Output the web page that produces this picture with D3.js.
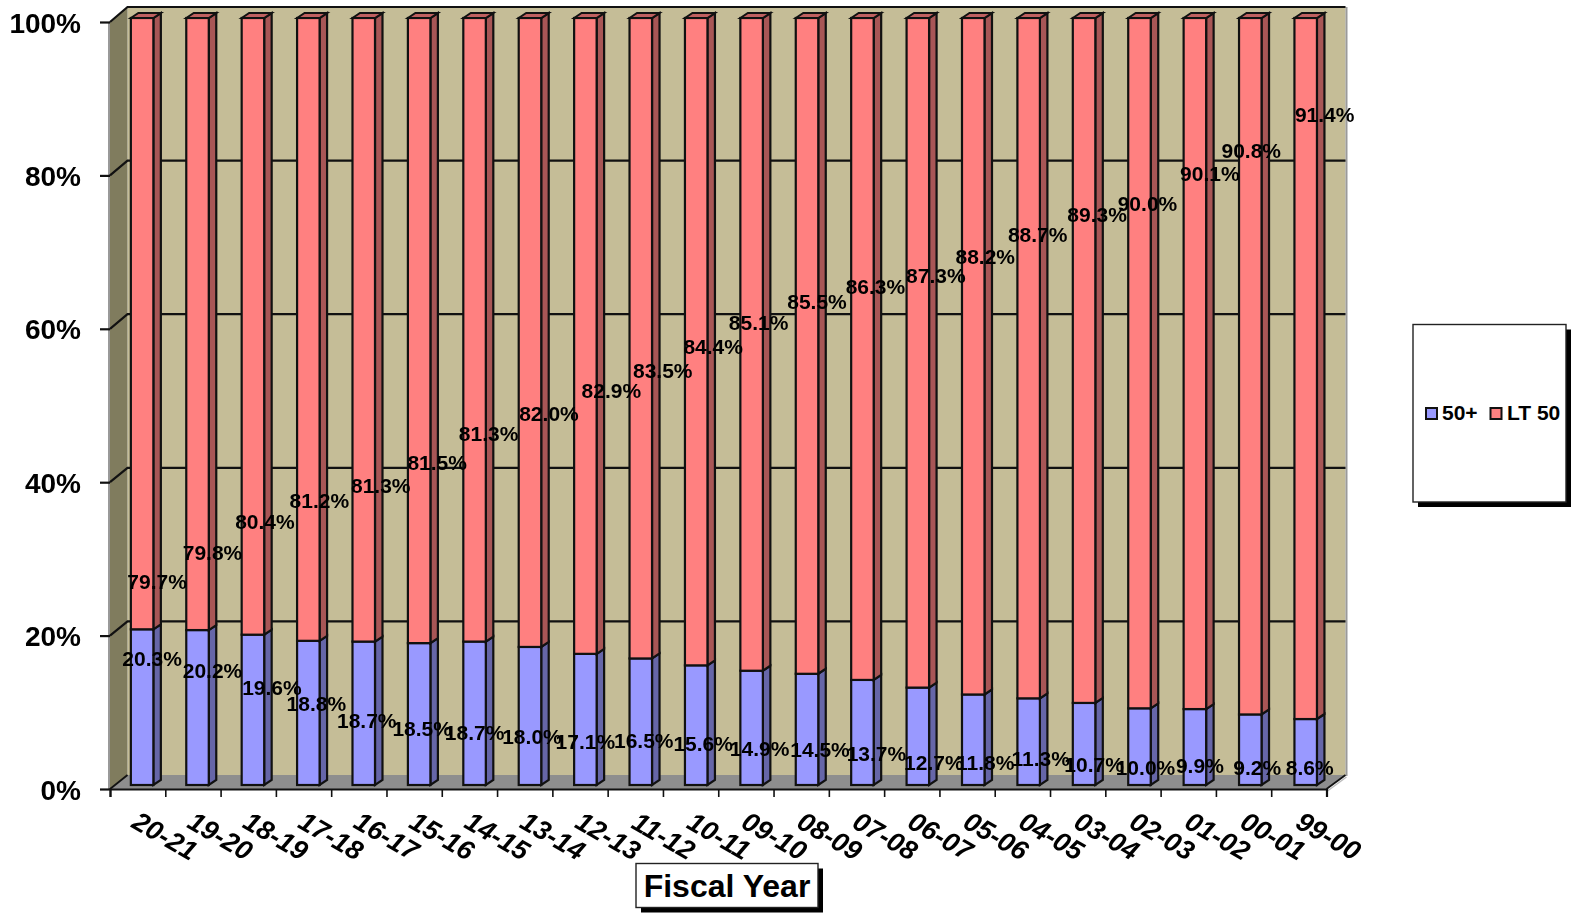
<!DOCTYPE html>
<html><head><meta charset="utf-8">
<style>html,body{margin:0;padding:0;background:#fff}svg{display:block;filter:blur(.55px)}text{font-family:"Liberation Sans",Arial,sans-serif;font-weight:bold;fill:#000}</style>
<script src="https://cdn.jsdelivr.net/npm/d3@7/dist/d3.min.js"></script>
</head><body><svg id="c" width="1572" height="914"></svg>
<script>
const years=["20-21","19-20","18-19","17-18","16-17","15-16","14-15","13-14","12-13","11-12","10-11","09-10","08-09","07-08","06-07","05-06","04-05","03-04","02-03","01-02","00-01","99-00"];
const over50=[20.3,20.2,19.6,18.8,18.7,18.5,18.7,18.0,17.1,16.5,15.6,14.9,14.5,13.7,12.7,11.8,11.3,10.7,10.0,9.9,9.2,8.6];
const lt50=[79.7,79.8,80.4,81.2,81.3,81.5,81.3,82.0,82.9,83.5,84.4,85.1,85.5,86.3,87.3,88.2,88.7,89.3,90.0,90.1,90.8,91.4];
const yTicks=[0,20,40,60,80,100];
const gridTicks=[20,40,60,80];
// hand-placed data label centres in the original (bar offset px, y px)
const ltLabelNudge=[[15,583],[15,554],[12,523],[11,502],[17,487],[18,464],[14,435],[19,415],[26,392],[22,372],[17,348],[7,324],[10,303],[13,288],[18,277],[12,258],[9,236],[13,216],[8,205],[15,175],[1,152],[19,116]];
const overLabelNudge=[[10,660],[15,672],[19,689],[8,705],[3,722],[3,730],[0,734],[2,738],[0,743],[3,742],[7,745],[8,750],[13,751],[14,755],[16,764],[12,764],[12,760],[10,766],[6,769],[5,767],[7,769],[4,769]];

const svg=d3.select("#c");
const dx=7.5,dy=-5,wx=17.5;
const xTickScale=d3.scaleLinear().domain([0,years.length]).range([110,1326.5]);
const band=d3.scaleBand().domain(years).range([114.4,1333.4]);
const yFront=d3.scaleLinear().domain([0,100]).range([789,22]);
const yBack=d3.scaleLinear().domain([0,100]).range([775,7]);
const yBar=d3.scaleLinear().domain([0,100]).range([785,18]);
const barW=22.5;
const barX=y=>band(y)+band.step()/2-barW/2;

// walls
const x0=xTickScale(0),x1=xTickScale(years.length),xr=x1+19;
const poly=(pts,fill)=>svg.append("polygon").attr("points",pts.map(p=>p.join(",")).join(" ")).attr("fill",fill);
poly([[x0+wx,yBack(100)],[xr,yBack(100)],[xr,yBack(0)],[x0+wx,yBack(0)]],"#C5BD97");
poly([[x0,yFront(100)],[x0+wx,yBack(100)],[x0+wx,yBack(0)],[x0,yFront(0)]],"#807C5E");
poly([[x0,yFront(0)],[x0+wx,yBack(0)],[xr,yBack(0)],[x1,yFront(0)]],"#8E8E8E");
svg.append("line").attr("x1",xr+1).attr("x2",xr+1).attr("y1",yBack(100)).attr("y2",yBack(0)+1).attr("stroke","#9a9a9a").attr("stroke-width",2);
svg.append("line").attr("x1",x0-1).attr("x2",x0-1).attr("y1",yFront(100)).attr("y2",yFront(0)).attr("stroke","#999").attr("stroke-width",2);
svg.append("line").attr("x1",x1+1).attr("x2",xr+1).attr("y1",yFront(0)+2).attr("y2",yBack(0)+2).attr("stroke","#bbb").attr("stroke-width",1.5);
// grid
gridTicks.concat([100]).forEach(t=>{
  svg.append("polyline").attr("fill","none").attr("stroke","#111").attr("stroke-width",2.2)
    .attr("points",[[x0,yFront(t)],[x0+wx,yBack(t)],[xr,yBack(t)]].map(p=>p.join(",")).join(" "));
});
svg.append("polyline").attr("fill","none").attr("stroke","#111").attr("stroke-width",1.8)
  .attr("points",[[x0,yFront(0)],[x0+wx,yBack(0)]].map(p=>p.join(",")).join(" "));
svg.append("line").attr("x1",xr).attr("x2",x1).attr("y1",yBack(0)).attr("y2",yFront(0)).attr("stroke","#111").attr("stroke-width",1.8);

// axes
const yAxis=d3.axisLeft(yFront).tickValues(yTicks).tickSize(10).tickPadding(19).tickFormat(d=>d+"%");
const gy=svg.append("g").attr("transform",`translate(${x0},0)`).call(yAxis);
gy.select(".domain").remove();
gy.selectAll("line").attr("stroke","#111").attr("stroke-width",2.2);
gy.selectAll("text").attr("font-size",28).attr("dy","0.36em");
const xAxis=d3.axisBottom(xTickScale).tickValues(d3.range(years.length+1)).tickSize(8).tickFormat("");
const gx=svg.append("g").attr("transform",`translate(0,${yFront(0)})`).call(xAxis);
gx.select(".domain").attr("stroke","#111").attr("stroke-width",2.2);
gx.selectAll("line").attr("stroke","#111").attr("stroke-width",1.6);

// bars
const rows=years.map((y,i)=>({year:y,over:over50[i],lt:lt50[i]}));
const stack=d3.stack().keys(["over","lt"])(rows);
const fills={over:["#9999FF","#6666A8"],lt:["#FF8080","#A85656","#BF6060"]};
stack.forEach(s=>{
  const g=svg.append("g").selectAll("g").data(s).join("g");
  const top=d=>yBar(d[1]),bot=d=>yBar(d[0]);
  const ln=pts=>pts.map(p=>p.join(",")).join(" ");
  g.append("polygon").attr("fill",fills[s.key][1]).attr("stroke","#111").attr("stroke-width",2.2)
   .attr("points",d=>{const x=barX(d.data.year)+barW;return ln([[x,top(d)],[x+dx,top(d)+dy],[x+dx,bot(d)+dy],[x,bot(d)]]);});
  g.append("rect").attr("x",d=>barX(d.data.year)).attr("width",barW).attr("y",top).attr("height",d=>bot(d)-top(d))
   .attr("fill",fills[s.key][0]).attr("stroke","#111").attr("stroke-width",2.2);
  if(s.key==="lt") g.append("polygon").attr("fill",fills.lt[2]).attr("stroke","#111").attr("stroke-width",2)
   .attr("points",d=>{const x=barX(d.data.year);return ln([[x,top(d)],[x+dx,top(d)+dy],[x+barW+dx,top(d)+dy],[x+barW,top(d)]]);});
});

// data labels
const label=(vals,nudge)=>svg.append("g").selectAll("text").data(vals).join("text")
  .attr("x",(d,i)=>band(years[i])+band.step()/2+nudge[i][0]).attr("y",(d,i)=>nudge[i][1]-1.5)
  .attr("text-anchor","middle").attr("dy","0.36em").attr("font-size",21).text(d=>d.toFixed(1)+"%");
label(lt50,ltLabelNudge);
label(over50,overLabelNudge);

// category labels
svg.append("g").selectAll("text").data(years).join("text")
  .attr("transform",y=>`translate(${band(y)+band.step()/2+23},835.5) rotate(30)`)
  .attr("text-anchor","middle").attr("dy","0.36em").attr("font-size",27).attr("font-style","italic").text(d=>d);

// axis title
const box=(x,y,w,h)=>{
  svg.append("rect").attr("x",x+5).attr("y",y+5).attr("width",w).attr("height",h).attr("fill","#000");
  svg.append("rect").attr("x",x).attr("y",y).attr("width",w).attr("height",h).attr("fill","#fff").attr("stroke","#222").attr("stroke-width",1.4);
};
box(636,863.5,182,44);
svg.append("text").attr("x",727).attr("y",885).attr("dy","0.36em").attr("text-anchor","middle").attr("font-size",32).text("Fiscal Year");

// legend
box(1413,324.5,153,177.5);
[["50+","#9999FF",1426,1442],["LT 50","#FF8080",1490.5,1507]].forEach(([t,c,sx,tx])=>{
  svg.append("rect").attr("x",sx).attr("y",408).attr("width",11).attr("height",11).attr("fill",c).attr("stroke","#111").attr("stroke-width",2);
  svg.append("text").attr("x",tx).attr("y",412.5).attr("dy","0.36em").attr("font-size",21).text(t);
});
</script></body></html>
